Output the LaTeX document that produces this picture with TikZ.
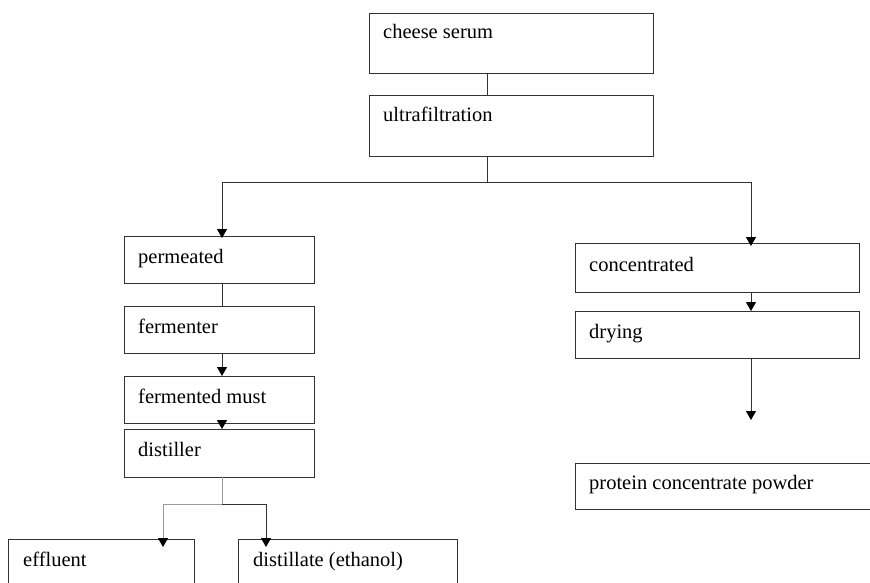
\documentclass[tikz,border=0pt]{standalone}
\usepackage{fontspec}
\setmainfont{Liberation Serif}
\usetikzlibrary{arrows.meta,calc}
\definecolor{linec}{HTML}{333333}
\definecolor{lightc}{HTML}{9A9A9A}
\tikzset{
  box/.style={draw=linec, line width=0.9pt, rectangle, anchor=north west, inner sep=0pt, outer sep=0pt},
  lbl/.style={anchor=base west, inner sep=0pt, font=\fontsize{20.5}{24}\selectfont},
  conn/.style={draw=linec, line width=0.9pt},
  tip/.style={-{Triangle[width=10pt,length=9pt,color=black]}},
  arr/.style={conn, tip},
  grayconn/.style={draw=lightc, line width=0.9pt},
}
\begin{document}
\begin{tikzpicture}[x=1pt,y=-1pt]
\path[use as bounding box, clip] (0,0) rectangle (870,583);
\fill[white] (0,0) rectangle (870,583);
% column coordinates
\coordinate (cx) at (487,0);
\coordinate (lx) at (222,0);
\coordinate (rx) at (751,0);
\coordinate (split) at (487,182);
\coordinate (dsplit) at (222,504);
\coordinate (ex) at (163,0);
\coordinate (dx) at (266,0);
% boxes
\node[box, minimum width=284pt, minimum height=60pt] (cheese) at (369,13) {};
\node[box, minimum width=284pt, minimum height=61pt] (ultra) at (369,95) {};
\node[box, minimum width=190pt, minimum height=47pt] (perm) at (124,236) {};
\node[box, minimum width=190pt, minimum height=47pt] (ferm) at (124,306) {};
\node[box, minimum width=190pt, minimum height=47pt] (must) at (124,376) {};
\node[box, minimum width=190pt, minimum height=48pt] (dist) at (124,429) {};
\node[box, minimum width=186pt, minimum height=70pt] (eff) at (8,539) {};
\node[box, minimum width=219pt, minimum height=70pt] (distl) at (238,539) {};
\node[box, minimum width=284pt, minimum height=49pt] (conc) at (575,243) {};
\node[box, minimum width=284pt, minimum height=47pt] (dry) at (575,311) {};
\node[box, minimum width=310pt, minimum height=46pt] (prot) at (575,463) {};
% labels
\node[lbl] (tcheese) at ([shift={(14,26)}]cheese.north west) {cheese serum};
\node[lbl] (tultra) at ([shift={(14,27)}]ultra.north west) {ultrafiltration};
\node[lbl] (tperm) at ([shift={(14,27)}]perm.north west) {permeated};
\node[lbl] (tferm) at ([shift={(14,27)}]ferm.north west) {fermenter};
\node[lbl] (tmust) at ([shift={(14,27)}]must.north west) {fermented must};
\node[lbl] (tdist) at ([shift={(14,27)}]dist.north west) {distiller};
\node[lbl] (teff) at ([shift={(15,27)}]eff.north west) {effluent};
\node[lbl] (tdistl) at ([shift={(15,27)}]distl.north west) {distillate (ethanol)};
\node[lbl] (tconc) at ([shift={(14,28)}]conc.north west) {concentrated};
\node[lbl] (tdry) at ([shift={(14,27)}]dry.north west) {drying};
\node[lbl] (tprot) at ([shift={(14,26)}]prot.north west) {protein concentrate powder};
% connectors
\draw[conn] (cheese.south -| cx) -- (ultra.north -| cx);
\draw[conn] (ultra.south -| cx) -- (split);
\draw[arr] (split) -| ([yshift=-2pt]perm.north -| lx);
\draw[arr] (split) -| ([yshift=-3pt]conc.north -| rx);
\draw[conn] (perm.south -| lx) -- (ferm.north -| lx);
\draw[arr] (ferm.south -| lx) -- (must.north -| lx);
\draw[arr] (must.south -| lx) -- (dist.north -| lx);
\draw[arr] (conc.south -| rx) -- (dry.north -| rx);
\coordinate (dryend) at (751,420);
\draw[arr] (dry.south -| rx) -- (dryend);
\draw[grayconn] (dist.south -| dsplit) -- (dsplit);
\draw[grayconn, tip] (dsplit) -| ([yshift=-8pt]eff.north -| ex);
\draw[arr] (dsplit) -| ([yshift=-8pt]distl.north -| dx);
\end{tikzpicture}
\end{document}
